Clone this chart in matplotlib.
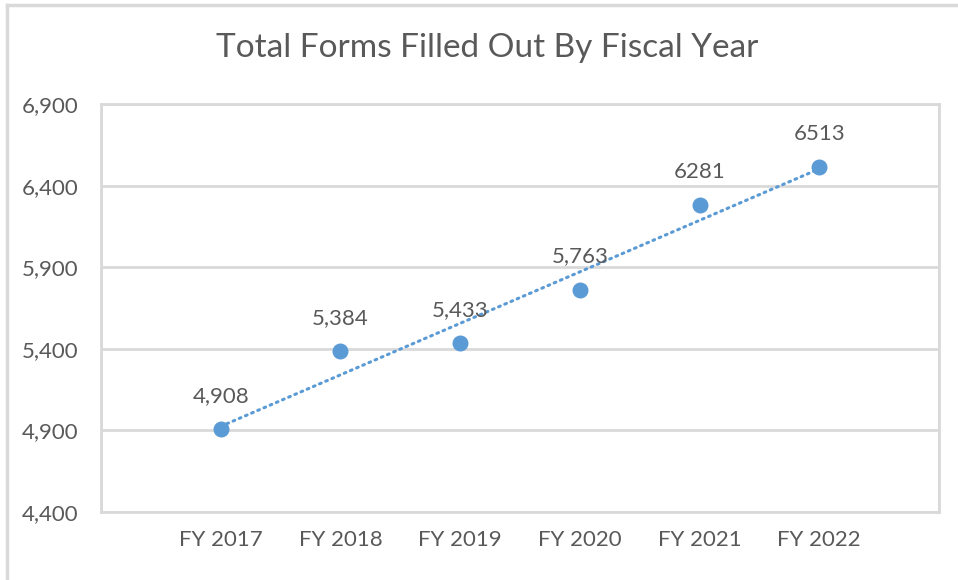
import matplotlib.pyplot as plt
from matplotlib.lines import Line2D
import numpy as np

# Total forms per fiscal year
years = ["FY 2017", "FY 2018", "FY 2019", "FY 2020", "FY 2021", "FY 2022"]
forms = [4908, 5384, 5433, 5763, 6281, 6513]
point_labels = ["4,908", "5,384", "5,433", "5,763", "6281", "6513"]
y_ticks = [4400, 4900, 5400, 5900, 6400, 6900]

plt.rcParams['font.family'] = ['Lato', 'DejaVu Sans']
text_col = '#595959'
grid_col = '#d9d9d9'
blue = '#5b9bd5'

fig = plt.figure(figsize=(9.58, 5.80), dpi=100)
ax = fig.add_axes([101 / 958, 1 - 512 / 580, 838 / 958, 408 / 580])

x = np.arange(1, len(years) + 1)

# linear trendline (dotted) like Excel
slope, intercept = np.polyfit(x, forms, 1)
ax.plot(x, slope * x + intercept, linestyle=(0, (0.6, 1.6)), color=blue,
        linewidth=2.2, dash_capstyle='round', zorder=2)

ax.plot(x, forms, 'o', color=blue, markersize=10.5, zorder=3)

for xi, yi, lab in zip(x, forms, point_labels):
    ax.annotate(lab, (xi, yi), xytext=(0, 33), textcoords='offset pixels',
                ha='center', va='center', fontsize=16, color=text_col, zorder=4)

ax.set_xlim(0, len(years) + 1)
ax.set_ylim(y_ticks[0], y_ticks[-1])
ax.set_xticks(x)
ax.set_xticklabels(years)
ax.set_yticks(y_ticks)
ax.set_yticklabels([f"{v:,}" for v in y_ticks])
ax.set_xticks(range(0, len(years) + 2), minor=True)

ax.grid(True, which='minor', axis='x', color=grid_col, linewidth=2)
ax.grid(True, which='major', axis='y', color=grid_col, linewidth=2)
ax.set_axisbelow(True)
ax.tick_params(which='both', length=0)
ax.tick_params(axis='x', pad=13, labelsize=16, labelcolor=text_col)
ax.tick_params(axis='y', pad=16, labelsize=16, labelcolor=text_col)
for s in ax.spines.values():
    s.set_color(grid_col)
    s.set_linewidth(2)

fig.text(487 / 958, 1 - 48 / 580, "Total Forms Filled Out By Fiscal Year",
         ha='center', va='center', fontsize=24, color=text_col)

# outer chart border
fig.add_artist(Line2D([7 / 958, 1], [1 - 5 / 580, 1 - 5 / 580],
                      transform=fig.transFigure, color=grid_col, linewidth=2.5))
fig.add_artist(Line2D([7 / 958, 7 / 958], [0, 1 - 5 / 580],
                      transform=fig.transFigure, color=grid_col, linewidth=2.5))

fig.savefig('out.png', dpi=100)
